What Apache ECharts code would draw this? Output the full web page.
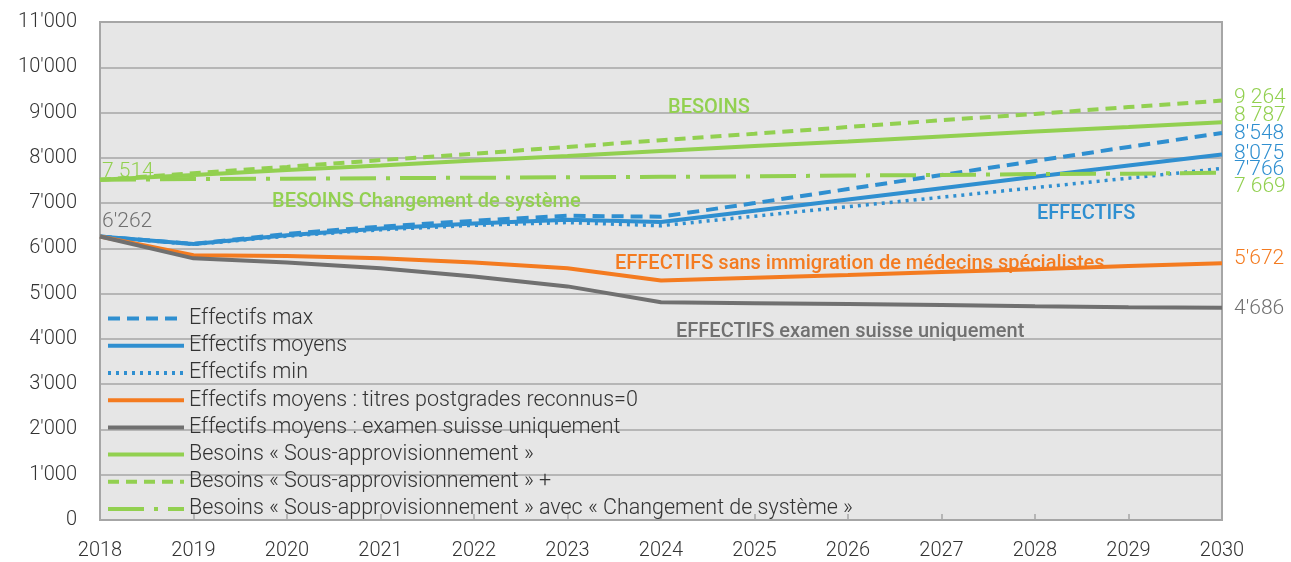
<!DOCTYPE html>
<html><head><meta charset="utf-8">
<script src="https://cdn.jsdelivr.net/npm/echarts@6/dist/echarts.min.js"></script>
<style>html,body{margin:0;padding:0;background:#fff}#c{width:1291px;height:562px}</style>
</head><body><div id="c"></div>
<script>
const years = ['2018','2019','2020','2021','2022','2023','2024','2025','2026','2027','2028','2029','2030'];
const effMax = [6262, 6100, 6320, 6480, 6610, 6720, 6700, 7000, 7310, 7620, 7930, 8240, 8548];
const effMoy = [6262, 6095, 6290, 6440, 6550, 6630, 6580, 6830, 7080, 7330, 7580, 7830, 8075];
const effMin = [6262, 6085, 6270, 6410, 6510, 6570, 6500, 6710, 6920, 7130, 7340, 7550, 7766];
const effTitres = [6262, 5850, 5830, 5780, 5690, 5560, 5290, 5350, 5410, 5480, 5540, 5610, 5672];
const effExamen = [6262, 5780, 5690, 5560, 5380, 5160, 4810, 4790, 4770, 4750, 4720, 4700, 4686];
const besoins = [7514, 7620, 7730, 7830, 7940, 8040, 8150, 8260, 8360, 8470, 8580, 8680, 8787];
const besoinsPlus = [7514, 7660, 7800, 7950, 8090, 8240, 8390, 8530, 8680, 8830, 8970, 9120, 9264];
const besoinsSys = [7514, 7530, 7540, 7550, 7560, 7570, 7580, 7590, 7610, 7620, 7640, 7650, 7669];
const seriesNames = ['Effectifs max','Effectifs moyens','Effectifs min','Effectifs moyens : titres postgrades reconnus=0','Effectifs moyens : examen suisse uniquement','Besoins « Sous-approvisionnement »','Besoins « Sous-approvisionnement » +','Besoins « Sous-approvisionnement » avec « Changement de système »'];
const endLabels = ["8'548","8'075","7'766","5'672","4'686","8 787","9 264","7 669"];
const startLabels = [null, null, null, null, "6'262", "7 514", null, null];
const annotations = ['BESOINS','BESOINS Changement de système','EFFECTIFS','EFFECTIFS sans immigration de médecins spécialistes','EFFECTIFS examen suisse uniquement'];

const BLUE='#2f8fd0', ORANGE='#f47b20', GREY='#707070', GREEN='#92d050';
const FONT='Roboto';
const cfg = [
  {data: effMax, color: BLUE, type:[12,7], width:4, endOff:1},
  {data: effMoy, color: BLUE, type:'solid', width:4, endOff:-1},
  {data: effMin, color: BLUE, type:[3,5], width:3.5, endOff:1},
  {data: effTitres, color: ORANGE, type:'solid', width:4, endOff:-4},
  {data: effExamen, color: GREY, type:'solid', width:4, endOff:1},
  {data: besoins, color: GREEN, type:'solid', width:4, endOff:-6},
  {data: besoinsPlus, color: GREEN, type:[11,7], width:4, endOff:-3},
  {data: besoinsSys, color: GREEN, type:[36,10,4,10], width:4, endOff:14}
];
const series = cfg.map((c,i)=>{
  const s = {
    name: seriesNames[i], type:'line', symbol:'none', showSymbol:false, smooth:false,
    lineStyle:{color:c.color, width:c.width, type:c.type},
    itemStyle:{color:c.color},
    emphasis:{disabled:true},
    data: c.data,
    endLabel:{show:true, distance:12, offset:[0,c.endOff], formatter:endLabels[i], color:c.color, fontSize:21, fontFamily:FONT, fontWeight:300}
  };
  if (startLabels[i]) {
    s.markPoint = {symbol:'circle', symbolSize:0, silent:true, animation:false,
      data:[{coord:[0, c.data[0]], value:c.data[0]}],
      label:{show:true, position:[2, i===4?-15:-8], align:'left', verticalAlign:'middle', formatter:startLabels[i], color:c.color, fontSize:21, fontFamily:FONT, fontWeight:300}};
  }
  return s;
});
function ann(text, x, y, color){return {type:'text', left:x, top:y, z:10, style:{text, fill:color, font:'500 20px Roboto'}};}
const option = {
  animation:false,
  grid:{left:100, right:69, top:22, bottom:42, show:true, backgroundColor:'#e6e6e6', borderColor:'#a6a6a6', borderWidth:2},
  legend:{orient:'vertical', left:101, top:300, itemGap:0, itemWidth:76, itemHeight:14, selectedMode:false,
    itemStyle:{opacity:0, borderWidth:0},
    lineStyle:{width:4},
    textStyle:{fontSize:21.5, color:'#333', fontFamily:FONT, fontWeight:300, lineHeight:27.2},
    data: seriesNames},
  xAxis:{type:'category', data:years, boundaryGap:false,
    axisLine:{show:true, lineStyle:{color:'#a6a6a6', width:2}},
    axisTick:{show:true, inside:true, length:6, lineStyle:{color:'#a6a6a6', width:1.5}},
    axisLabel:{fontSize:20, color:'#333', fontFamily:FONT, fontWeight:300, margin:21}},
  yAxis:{type:'value', min:0, max:11000, interval:1000,
    axisLine:{show:false}, axisTick:{show:false},
    splitLine:{lineStyle:{color:'#a6a6a6', width:1.5}},
    axisLabel:{fontSize:20, color:'#333', fontFamily:FONT, fontWeight:300, margin:23,
      formatter:v=>String(v).replace(/\B(?=(\d{3})+(?!\d))/g,"'")}},
  graphic:[
    ann(annotations[0], 668, 98, GREEN),
    ann(annotations[1], 272, 192, GREEN),
    ann(annotations[2], 1037, 204, BLUE),
    ann(annotations[3], 615, 254, ORANGE),
    ann(annotations[4], 676, 322, GREY)
  ],
  series
};
echarts.init(document.getElementById('c')).setOption(option);
</script></body></html>
